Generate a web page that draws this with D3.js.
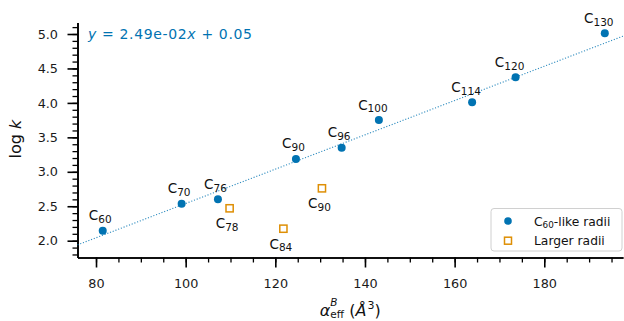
<!DOCTYPE html>
<html>
<head>
<meta charset="utf-8">
<script src="https://cdn.jsdelivr.net/npm/d3@7"></script>
<style>
  html, body { margin: 0; padding: 0; background: #fff; }
  svg { display: block; font-family: "DejaVu Sans", sans-serif; }
</style>
</head>
<body>
<svg id="chart" width="624" height="321"></svg>
<script>
// ---- data ----
const c60Alpha = [81.5, 99.1, 107.2, 124.6, 134.8, 143.1, 163.9, 173.6, 193.5];
const c60LogK  = [2.145, 2.537, 2.60, 3.186, 3.35, 3.75, 4.009, 4.372, 5.01];
const c60Sub   = ["60", "70", "76", "90", "96", "100", "114", "120", "130"];

const largeAlpha = [109.8, 121.8, 130.4];
const largeLogK  = [2.47, 2.174, 2.76];
const largeSub   = ["78", "84", "90"];

const fitSlope = 0.0249;
const fitIntercept = 0.05;
const fitLabel = ["y", " = 2.49e-02", "x", " + 0.05"];

const xMajorTicks = [80, 100, 120, 140, 160, 180];
const xMinorTicks = d3.range(80, 196, 5);
const yMajorTicks = [2.0, 2.5, 3.0, 3.5, 4.0, 4.5, 5.0];
const yMinorTicks = d3.range(18, 52, 1).map(v => v / 10);

const legendLabels = ["C60-like radii", "Larger radii"];

// ---- style ----
const BLUE = "#0173b2", ORANGE = "#de8f05";
const svg = d3.select("#chart");
const L = 77.5, R = 623, T = 22.5, B = 257.5;

const x = d3.scaleLinear().domain([75.87, 197.56]).range([L, R]);
const y = d3.scaleLinear().domain([1.756, 5.167]).range([B, T]);

// ---- axes ----
function styleAxis(g, w) {
  g.select(".domain").attr("stroke", "#000").attr("stroke-width", 1.6);
  g.selectAll(".tick line").attr("stroke", "#000").attr("stroke-width", w);
  g.selectAll(".tick text").attr("fill", "#1a1a1a").attr("font-size", "12.8px")
    .attr("font-family", "DejaVu Sans");
}
const gxMinor = svg.append("g").attr("transform", `translate(0,${B})`)
  .call(d3.axisBottom(x).tickValues(xMinorTicks).tickSize(5).tickSizeOuter(0).tickFormat(""));
styleAxis(gxMinor, 1.3);
const gx = svg.append("g").attr("transform", `translate(0,${B})`)
  .call(d3.axisBottom(x).tickValues(xMajorTicks).tickSize(10).tickSizeOuter(0).tickPadding(11.5)
    .tickFormat(d3.format("d")));
styleAxis(gx, 1.6);

const gyMinor = svg.append("g").attr("transform", `translate(${L},0)`)
  .call(d3.axisLeft(y).tickValues(yMinorTicks).tickSize(5).tickSizeOuter(0).tickFormat(""));
styleAxis(gyMinor, 1.3);
const gy = svg.append("g").attr("transform", `translate(${L},0)`)
  .call(d3.axisLeft(y).tickValues(yMajorTicks).tickSize(10).tickSizeOuter(0).tickPadding(9.5)
    .tickFormat(d3.format(".1f")));
styleAxis(gy, 1.6);

// ---- fit line ----
const xd = x.domain();
svg.append("line")
  .attr("x1", x(xd[0])).attr("y1", y(fitSlope * xd[0] + fitIntercept))
  .attr("x2", x(xd[1])).attr("y2", y(fitSlope * xd[1] + fitIntercept))
  .attr("stroke", BLUE).attr("stroke-opacity", 0.85).attr("stroke-width", 1.1)
  .attr("stroke-dasharray", "1.1,1.8");

// ---- equation ----
const eq = svg.append("text").attr("x", 88).attr("y", 38.5).attr("fill", BLUE)
  .attr("font-size", "14px").attr("textLength", 164).attr("lengthAdjust", "spacing");
fitLabel.forEach((s, i) => {
  eq.append("tspan").text(s).attr("font-style", i % 2 === 0 ? "italic" : "normal");
});

// ---- points ----
const c60 = c60Alpha.map((a, i) => ({a, k: c60LogK[i], s: c60Sub[i]}));
const large = largeAlpha.map((a, i) => ({a, k: largeLogK[i], s: largeSub[i]}));

svg.append("g").selectAll("circle").data(c60).join("circle")
  .attr("cx", d => x(d.a)).attr("cy", d => y(d.k)).attr("r", 4).attr("fill", BLUE);

svg.append("g").selectAll("rect").data(large).join("rect")
  .attr("x", d => x(d.a) - 3.6).attr("y", d => y(d.k) - 3.6)
  .attr("width", 7.2).attr("height", 7.2)
  .attr("fill", "none").attr("stroke", ORANGE).attr("stroke-width", 1.5);

function cLabel(g, d, dy) {
  const t = g.append("text")
    .attr("x", x(d.a) - 2.5 - 3.5 * (d.s.length - 2))
    .attr("y", y(d.k) + dy)
    .attr("text-anchor", "middle").attr("fill", "#111").attr("font-size", "13.5px");
  t.append("tspan").text("C");
  t.append("tspan").text(d.s).attr("font-size", "10.5px").attr("dy", 2.8);
}
const lg = svg.append("g");
c60.forEach(d => cLabel(lg, d, -10.5));
large.forEach(d => cLabel(lg, d, 19.8));

// ---- axis labels ----
svg.append("text")
  .attr("transform", "translate(21,139) rotate(-90)")
  .attr("text-anchor", "middle").attr("font-size", "16px").attr("fill", "#111")
  .call(t => {
    t.append("tspan").text("log ");
    t.append("tspan").text("k").attr("font-style", "italic");
  });

const xl = svg.append("text").attr("x", (L + R) / 2).attr("y", 315.5)
  .attr("text-anchor", "middle").attr("font-size", "16px").attr("fill", "#111");
xl.append("tspan").text("α").attr("font-style", "italic");
xl.append("tspan").text("eff").attr("font-size", "10.5px").attr("dy", 2.6);
xl.append("tspan").text("B").attr("font-size", "10.5px").attr("font-style", "italic")
  .attr("dx", -13.9).attr("dy", -11.8);
xl.append("tspan").text(" (").attr("dx", 6.8).attr("dy", 9.2);
xl.append("tspan").text("Å").attr("font-style", "italic");
xl.append("tspan").text("3").attr("font-size", "11px").attr("dy", -6.5).attr("dx", 1);
xl.append("tspan").text(")").attr("dy", 6.5);

// ---- legend ----
const leg = svg.append("g");
leg.append("rect").attr("x", 491).attr("y", 208.5).attr("width", 131).attr("height", 42.5)
  .attr("rx", 3).attr("fill", "#fff").attr("fill-opacity", 0.8)
  .attr("stroke", "#d0d0d0").attr("stroke-width", 1);
leg.append("circle").attr("cx", 508).attr("cy", 221).attr("r", 3.8).attr("fill", BLUE);
leg.append("rect").attr("x", 504.5).attr("y", 237.2).attr("width", 7).attr("height", 7)
  .attr("fill", "none").attr("stroke", ORANGE).attr("stroke-width", 1.5);
const lt1 = leg.append("text").attr("x", 534).attr("y", 225.5).attr("font-size", "12.3px").attr("fill", "#111");
lt1.append("tspan").text(legendLabels[0].slice(0, 1));
lt1.append("tspan").text(legendLabels[0].slice(1, 3)).attr("font-size", "8.8px").attr("dy", 2);
lt1.append("tspan").text(legendLabels[0].slice(3)).attr("dy", -2);
leg.append("text").attr("x", 534).attr("y", 245.3).attr("font-size", "12.3px").attr("fill", "#111")
  .text(legendLabels[1]);
</script>
</body>
</html>
